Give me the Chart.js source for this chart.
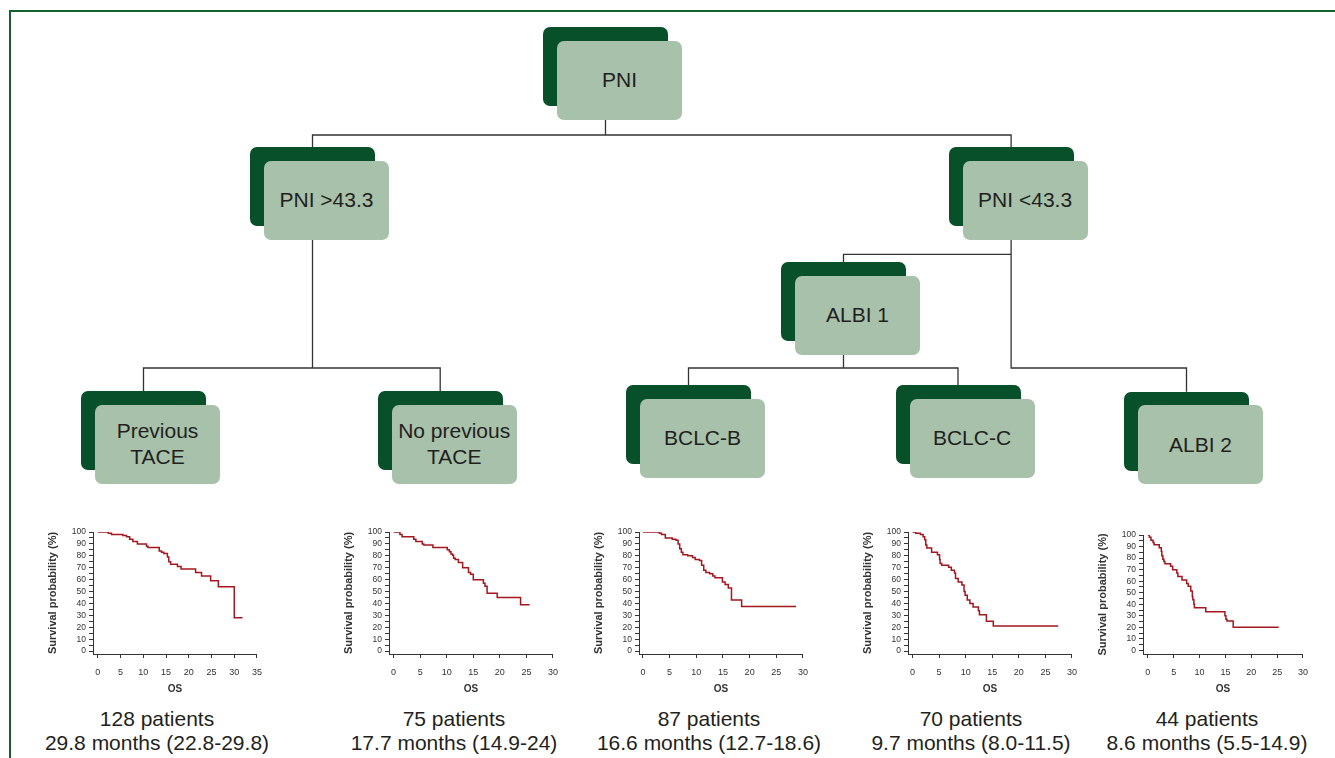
<!DOCTYPE html>
<html>
<head>
<meta charset="utf-8">
<script src="https://cdn.jsdelivr.net/npm/chart.js@4.4.1/dist/chart.umd.min.js"></script>
<style>
  html, body { margin: 0; padding: 0; background: #fff; }
  body { width: 1335px; height: 758px; position: relative; overflow: hidden;
         font-family: "Liberation Sans", Arial, sans-serif; }
  #frame { position: absolute; left: 9px; top: 10px; width: 1400px; height: 800px;
           border-left: 2px solid #14602f; border-top: 2px solid #14602f; }
  #links { position: absolute; left: 0; top: 0; }
  .box { position: absolute; width: 125px; height: 79px; border-radius: 7px; }
  .dark { background: #075029; }
  .light { background: #a7c1ab; display: flex; align-items: center; justify-content: center;
           text-align: center; font-size: 21px; line-height: 26px; color: #231f20; }
  .km { position: absolute; }
  .cap { position: absolute; width: 300px; text-align: center; font-size: 21px;
         line-height: 24px; color: #231f20; }
</style>
</head>
<body>
<div id="frame"></div>
<svg id="links" width="1335" height="758"></svg>
<div id="tree"></div>
<canvas class="km" id="km1"></canvas>
<canvas class="km" id="km2"></canvas>
<canvas class="km" id="km3"></canvas>
<canvas class="km" id="km4"></canvas>
<canvas class="km" id="km5"></canvas>
<div id="caps"></div>

<script>
// --- data -------------------------------------------------------------
var NODE_LABELS = ['PNI', 'PNI >43.3', 'PNI <43.3', 'ALBI 1', 'Previous<br>TACE',
                   'No previous<br>TACE', 'BCLC-B', 'BCLC-C', 'ALBI 2'];
var PATIENTS = ['128 patients', '75 patients', '87 patients', '70 patients', '44 patients'];
var MEDIANS = ['29.8 months (22.8-29.8)', '17.7 months (14.9-24)', '16.6 months (12.7-18.6)',
               '9.7 months (8.0-11.5)', '8.6 months (5.5-14.9)'];

var Y_TICKS = [0, 5, 10, 15, 20, 25, 30, 35, 40, 45, 50, 55, 60, 65, 70, 75, 80, 85, 90, 95, 100];
var X_TICKS_35 = [0, 5, 10, 15, 20, 25, 30, 35];
var X_TICKS_30 = [0, 5, 10, 15, 20, 25, 30];

// Previous TACE
var T1 = [0, 2.3, 3.0, 5.5, 6.3, 7.0, 7.7, 8.7, 10.7, 11.0, 13.5, 14.0, 14.5, 15.3, 15.6, 16.0, 17.5, 18.3, 21.5, 22.8, 24.8, 26.5, 30.0, 31.8];
var S1 = [100, 99, 98, 97, 96, 94, 92, 90, 88, 87, 84, 83, 82, 79, 75, 73, 71, 69, 66, 63, 59, 54, 28, 28];
// No previous TACE
var T2 = [0, 1.2, 1.6, 3.8, 4.2, 5.4, 5.7, 7.4, 10.1, 10.5, 10.8, 11.1, 11.3, 11.6, 12.2, 13.0, 14.1, 14.5, 15.0, 16.9, 17.2, 17.6, 19.5, 23.9, 25.6];
var S2 = [100, 98, 96, 94, 92, 90, 89, 87, 85, 83.5, 81.5, 80.5, 78, 77, 74.5, 70, 66, 64.5, 60, 57, 54.5, 48.5, 45, 39, 39];
// BCLC-B
var T3 = [0, 3.1, 3.5, 4.2, 5.5, 6.2, 6.6, 6.9, 7.2, 7.5, 8.4, 9.3, 9.8, 10.6, 11.0, 11.4, 11.8, 12.5, 13.1, 13.5, 14.9, 15.4, 16.0, 16.6, 18.5, 28.7];
var S3 = [100, 99, 98, 95, 94, 93, 90, 86, 83, 81, 80, 78.5, 77, 76, 72, 68, 66, 65, 63, 61.5, 58, 56, 53, 43, 37.5, 37.5];
// BCLC-C
var T4 = [0, 0.6, 1.5, 2.0, 2.3, 2.5, 2.7, 3.6, 4.7, 5.1, 5.2, 5.5, 6.8, 7.3, 7.9, 8.1, 8.6, 9.3, 9.7, 9.9, 10.3, 10.8, 11.4, 12.4, 12.6, 13.9, 15.2, 27.4];
var S4 = [100, 99, 98, 96, 93.5, 89, 86.5, 83, 81, 77, 73.5, 72, 70.5, 68, 65.5, 61, 58, 55.5, 50, 47, 43, 40, 37, 34, 30.5, 25, 21, 21];
// ALBI 2
var T5 = [0, 0.3, 0.6, 1.0, 1.2, 2.2, 2.6, 2.7, 2.9, 3.1, 3.3, 4.4, 4.8, 5.6, 5.8, 6.6, 7.5, 7.8, 8.3, 8.6, 8.7, 8.9, 9.0, 11.2, 14.9, 15.1, 15.3, 16.5, 25.3];
var S5 = [100, 98, 95.5, 93.5, 91.5, 89, 86, 82, 79, 77, 75, 73, 70, 67, 64, 61, 58, 55.5, 51.5, 46.5, 44, 40, 37, 33.5, 30, 27, 25.5, 20, 20];

// --- tree layout (dark box top-left) ---------------------------------
var NODE_POS = [[543, 27], [250, 147], [948.6, 147], [781, 262], [81, 391],
                [377.7, 391], [626, 385], [895.5, 385], [1124, 391.7]];
// parent, child, y of the horizontal connector
var EDGES = [[0, 1, 135], [0, 2, 135], [1, 4, 368], [1, 5, 368],
             [2, 3, 254.3], [2, 8, 368], [3, 6, 368], [3, 7, 368]];
var BW = 125, BH = 79, OFF_X = 14, OFF_Y = 13.5;

var svg = document.getElementById('links');
var d = '';
EDGES.forEach(function (e) {
  var p = NODE_POS[e[0]], c = NODE_POS[e[1]];
  var px = p[0] + BW / 2, pb = p[1] + OFF_Y + BH;
  var cx = c[0] + BW / 2, ct = c[1];
  d += 'M' + px + ' ' + pb + 'V' + e[2] + 'H' + cx + 'V' + ct + ' ';
});
svg.innerHTML = '<path d="' + d + '" fill="none" stroke="#333" stroke-width="1.3"/>';

var tree = document.getElementById('tree');
NODE_POS.forEach(function (p, i) {
  var dk = document.createElement('div');
  dk.className = 'box dark';
  dk.style.left = p[0] + 'px'; dk.style.top = p[1] + 'px';
  var lt = document.createElement('div');
  lt.className = 'box light';
  lt.style.left = (p[0] + OFF_X) + 'px'; lt.style.top = (p[1] + OFF_Y) + 'px';
  lt.innerHTML = NODE_LABELS[i];
  tree.appendChild(dk); tree.appendChild(lt);
});

// --- captions ---------------------------------------------------------
var CAP_X = [157, 454, 709, 971, 1207];
var caps = document.getElementById('caps');
CAP_X.forEach(function (x, i) {
  var c = document.createElement('div');
  c.className = 'cap';
  c.style.left = (x - 150) + 'px'; c.style.top = '707px';
  c.innerHTML = PATIENTS[i] + '<br>' + MEDIANS[i];
  caps.appendChild(c);
});

// --- KM plots -----------------------------------------------------------
Chart.defaults.font.family = '"Liberation Sans", Arial, sans-serif';
Chart.defaults.color = '#333';

var Y_W = 53, X_H = 46, PAD_T = 9, PAD_R = 10;

function km(id, times, surv, xTicks, L) {
  var el = document.getElementById(id);
  var W = Math.round(L.right - L.left + Y_W + PAD_R);
  var H = Math.round(L.bottom - L.top + PAD_T + X_H);
  el.width = W; el.height = H;
  el.style.width = W + 'px'; el.style.height = H + 'px';
  el.style.left = (L.left - Y_W) + 'px';
  el.style.top = (L.top - PAD_T) + 'px';

  var pts = times.map(function (t, i) { return { x: t, y: surv[i] }; });
  new Chart(el, {
    type: 'scatter',
    data: { datasets: [{ data: pts, showLine: true, stepped: true, borderColor: '#a3171f',
                         borderWidth: 1.5, pointRadius: 0, fill: false }] },
    options: {
      responsive: false,
      animation: false,
      layout: { padding: { top: PAD_T, right: PAD_R, left: 0, bottom: 0 } },
      plugins: { legend: { display: false }, tooltip: { enabled: false } },
      scales: {
        x: {
          type: 'linear', min: L.xmin, max: xTicks[xTicks.length - 1],
          afterBuildTicks: function (a) { a.ticks = xTicks.map(function (v) { return { value: v }; }); },
          afterFit: function (s) { s.height = X_H; },
          grid: { drawOnChartArea: false, drawTicks: true, tickLength: 4, color: '#333' },
          border: { display: true, color: '#333', width: 1 },
          ticks: { autoSkip: false, maxRotation: 0, padding: 9, font: { size: 9 } },
          title: { display: true, text: 'OS', font: { size: 10, weight: 'bold' },
                   padding: { top: 0, bottom: 4.5 } }
        },
        y: {
          type: 'linear', min: L.ymin, max: 100,
          afterBuildTicks: function (a) { a.ticks = Y_TICKS.map(function (v) { return { value: v }; }); },
          afterFit: function (s) { s.width = Y_W; },
          grid: { drawOnChartArea: false, drawTicks: true, tickLength: 4, color: '#333' },
          border: { display: true, color: '#333', width: 1 },
          ticks: { autoSkip: false, padding: 3, font: { size: 8.5 },
                   callback: function (v) { return v % 10 === 0 ? v : ''; } },
          title: { display: true, text: 'Survival probability (%)', font: { size: 11, weight: 'bold' },
                   padding: { top: 6.4, bottom: 0 } }
        }
      }
    }
  });
}

km('km1', T1, S1, X_TICKS_35, { left: 93.3, right: 261.7, top: 531.7, bottom: 654, xmin: -1.07, ymin: -2.4 });
km('km2', T2, S2, X_TICKS_30, { left: 389.3, right: 557.7, top: 531.7, bottom: 654, xmin: -0.86, ymin: -2.4 });
km('km3', T3, S3, X_TICKS_30, { left: 638.7, right: 806.5, top: 531.7, bottom: 654, xmin: -0.73, ymin: -2.4 });
km('km4', T4, S4, X_TICKS_30, { left: 907.7, right: 1075.7, top: 531.7, bottom: 654, xmin: -0.84, ymin: -2.4 });
km('km5', T5, S5, X_TICKS_30, { left: 1143.3, right: 1307.3, top: 535, bottom: 654.3, xmin: -0.94, ymin: -3.1 });
</script>
</body>
</html>
